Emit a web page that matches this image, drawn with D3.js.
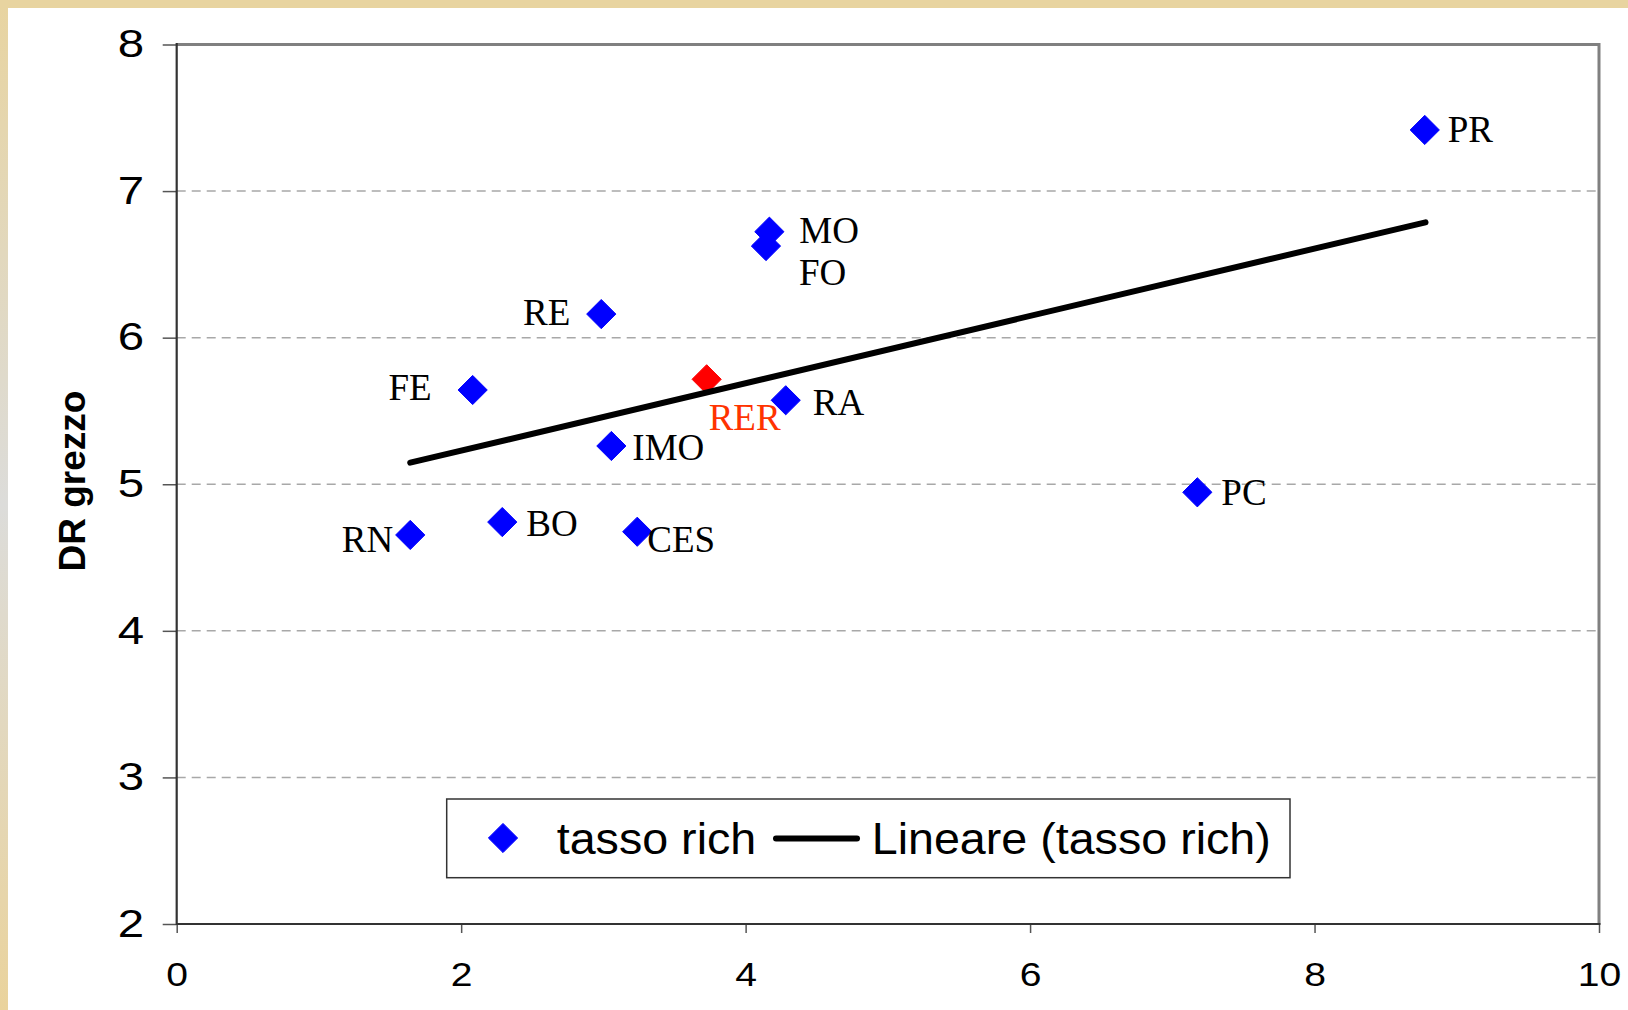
<!DOCTYPE html>
<html>
<head>
<meta charset="utf-8">
<script src="https://cdn.jsdelivr.net/npm/d3@7"></script>
<style>
  html, body { margin: 0; padding: 0; background: #fff; }
  svg { display: block; }
</style>
</head>
<body>
<svg id="chart" width="1628" height="1010"></svg>
<script>
// ---- data ----
const names  = ["PR", "MO", "FO", "RE", "FE", "RER", "RA", "IMO", "PC", "BO", "CES", "RN"];
const tassoRich = [8.775, 4.167, 4.143, 2.985, 2.081, 3.726, 4.282, 3.056, 7.176, 2.289, 3.238, 1.642];
const drGrezzo  = [7.417, 6.723, 6.625, 6.161, 5.643, 5.716, 5.573, 5.261, 4.945, 4.742, 4.676, 4.654];
const trendX = [1.642, 8.78];
const trendY = [5.147, 6.787];
const xTicks = [0, 2, 4, 6, 8, 10];
const yTicks = [2, 3, 4, 5, 6, 7, 8];
const gridTicks = [3, 4, 5, 6, 7];
const seriesName = "tasso rich";
const trendName = "Lineare (tasso rich)";
const yTitle = "DR grezzo";
const highlight = "RER";

// ---- label placement (px offsets from marker centre) ----
const labelPlace = {
  PR:  {dx: 23,  dy: 12, anchor: "start"},
  MO:  {dx: 30,  dy: 11, anchor: "start"},
  FO:  {dx: 33,  dy: 39, anchor: "start"},
  RE:  {dx: -31, dy: 11, anchor: "end"},
  FE:  {dx: -41, dy: 10, anchor: "end"},
  RER: {dx: 2,   dy: 51, anchor: "start"},
  RA:  {dx: 27,  dy: 15, anchor: "start"},
  IMO: {dx: 21,  dy: 14, anchor: "start"},
  PC:  {dx: 24,  dy: 13, anchor: "start"},
  BO:  {dx: 24,  dy: 14, anchor: "start"},
  CES: {dx: 10,  dy: 20, anchor: "start"},
  RN:  {dx: -17, dy: 17, anchor: "end"}
};

const svg = d3.select("#chart");
const W = 1628, H = 1010;
const L = 176.7, R = 1599, T = 44.5, B = 924;

const x = d3.scaleLinear().domain([0, 10]).range([L, R]);
const y = d3.scaleLinear().domain([2, 8]).range([B, T]);

// ---- background frame strips ----
const defs = svg.append("defs");
const lg = defs.append("linearGradient").attr("id", "leftStrip")
  .attr("x1", 0).attr("y1", 0).attr("x2", 0).attr("y2", 1);
lg.append("stop").attr("offset", "0%").attr("stop-color", "#E8D4A0");
lg.append("stop").attr("offset", "50%").attr("stop-color", "#DCDCDA");
lg.append("stop").attr("offset", "100%").attr("stop-color", "#EAD39C");

svg.append("rect").attr("x", 0).attr("y", 0).attr("width", W).attr("height", H).attr("fill", "#fff");
svg.append("rect").attr("x", 0).attr("y", 0).attr("width", 8).attr("height", H).attr("fill", "url(#leftStrip)");
svg.append("rect").attr("x", 0).attr("y", 0).attr("width", W).attr("height", 8).attr("fill", "#E8D4A0");

// ---- gridlines ----
svg.append("g").selectAll("line").data(gridTicks).join("line")
  .attr("x1", L).attr("x2", R)
  .attr("y1", d => y(d)).attr("y2", d => y(d))
  .attr("stroke", "#A8A8A8").attr("stroke-width", 1.5)
  .attr("stroke-dasharray", "9,6");

// ---- plot frame (top/right grey) ----
svg.append("path")
  .attr("d", `M${L},${T} L${R},${T} L${R},${B}`)
  .attr("fill", "none").attr("stroke", "#808080").attr("stroke-width", 3);

// ---- axes ----
const yAxis = svg.append("g").attr("transform", `translate(${L},0)`)
  .call(d3.axisLeft(y).tickValues(yTicks).tickSize(14).tickFormat(d3.format("d")));
yAxis.select(".domain").remove();
yAxis.selectAll(".tick line").attr("stroke", "#555").attr("stroke-width", 1.5);
yAxis.selectAll(".tick text")
  .attr("font-family", "'Liberation Sans', Arial, sans-serif")
  .attr("font-size", 39.5).attr("fill", "#000")
  .attr("x", -32.7 / 1.2).attr("dy", "0.31em")
  .attr("transform", "scale(1.2,1)");

const xAxis = svg.append("g").attr("transform", `translate(0,${B})`)
  .call(d3.axisBottom(x).tickValues(xTicks).tickSize(9).tickFormat(d3.format("d")));
xAxis.select(".domain").remove();
xAxis.selectAll(".tick line").attr("stroke", "#555").attr("stroke-width", 1.5);
xAxis.selectAll(".tick text")
  .attr("font-family", "'Liberation Sans', Arial, sans-serif")
  .attr("font-size", 34).attr("fill", "#000")
  .attr("y", 62).attr("dy", 0)
  .attr("transform", "scale(1.15,1)");

// left and bottom axis lines (dark)
svg.append("line").attr("x1", L).attr("x2", L).attr("y1", T - 1.5).attr("y2", B + 1)
  .attr("stroke", "#333").attr("stroke-width", 2.2);
svg.append("line").attr("x1", L).attr("x2", R + 1.5).attr("y1", B).attr("y2", B)
  .attr("stroke", "#333").attr("stroke-width", 2.2);

// ---- markers ----
const h = 14.6;
const diamond = `M0,${-h} L${h},0 L0,${h} L${-h},0 Z`;
const pts = names.map((n, i) => ({name: n, x: tassoRich[i], y: drGrezzo[i]}));

svg.append("g").selectAll("path").data(pts).join("path")
  .attr("d", diamond)
  .attr("transform", d => `translate(${x(d.x)},${y(d.y)})`)
  .attr("fill", d => d.name === highlight ? "#FF0000" : "#0000FF")
  .attr("stroke", d => d.name === highlight ? "#FF0000" : "#0000FF")
  .attr("stroke-width", 1)
  .attr("stroke-linejoin", "round");

// ---- trend line ----
const trendPts = trendX.map((v, i) => [v, trendY[i]]);
svg.append("path")
  .attr("d", d3.line().x(d => x(d[0])).y(d => y(d[1]))(trendPts))
  .attr("fill", "none").attr("stroke", "#000").attr("stroke-width", 6)
  .attr("stroke-linecap", "round");

// ---- point labels ----
svg.append("g").selectAll("text").data(pts).join("text")
  .attr("x", d => x(d.x) + labelPlace[d.name].dx)
  .attr("y", d => y(d.y) + labelPlace[d.name].dy)
  .attr("text-anchor", d => labelPlace[d.name].anchor)
  .attr("font-family", "'Liberation Serif', 'Times New Roman', serif")
  .attr("font-size", 37)
  .attr("fill", d => d.name === highlight ? "#FF3300" : "#000")
  .text(d => d.name);

// ---- y axis title ----
svg.append("text")
  .attr("transform", "translate(85,481) rotate(-90)")
  .attr("text-anchor", "middle")
  .attr("font-family", "'Liberation Sans', Arial, sans-serif")
  .attr("font-weight", "bold").attr("font-size", 37)
  .text(yTitle);

// ---- legend ----
const lgX0 = 446.7, lgY0 = 799, lgX1 = 1290, lgY1 = 877.7;
const leg = svg.append("g");
leg.append("rect").attr("x", lgX0).attr("y", lgY0)
  .attr("width", lgX1 - lgX0).attr("height", lgY1 - lgY0)
  .attr("fill", "#fff").attr("stroke", "#333").attr("stroke-width", 1.5);
leg.append("path").attr("d", diamond).attr("transform", "translate(503,838)")
  .attr("fill", "#0000FF").attr("stroke", "#0000FF").attr("stroke-width", 1);
leg.append("text").attr("transform", "translate(556.7,854) scale(1.06,1)")
  .attr("font-family", "'Liberation Sans', Arial, sans-serif").attr("font-size", 44)
  .text(seriesName);
leg.append("line").attr("x1", 776).attr("x2", 857).attr("y1", 838.5).attr("y2", 838.5)
  .attr("stroke", "#000").attr("stroke-width", 6).attr("stroke-linecap", "round");
leg.append("text").attr("transform", "translate(871.7,854) scale(1.06,1)")
  .attr("font-family", "'Liberation Sans', Arial, sans-serif").attr("font-size", 44)
  .text(trendName);
</script>
</body>
</html>
